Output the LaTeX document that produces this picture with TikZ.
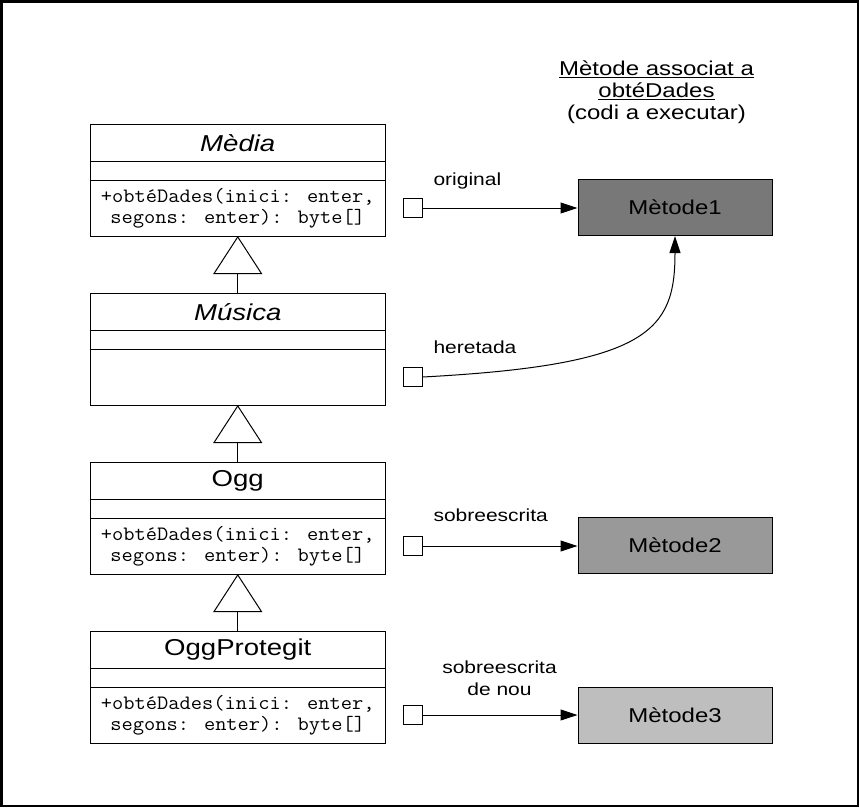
\documentclass[tikz,border=0pt]{standalone}
\usepackage{fontspec}
\setmainfont{Liberation Sans}[FakeStretch=1.2]
\newfontfamily\monof{Latin Modern Mono}[FakeStretch=1.07]
\usetikzlibrary{arrows.meta}
\definecolor{mone}{HTML}{787878}
\definecolor{mtwo}{HTML}{999999}
\definecolor{mthree}{HTML}{BEBEBE}
\tikzset{
  comp/.style={draw, rectangle, minimum width=294.5pt, inner sep=0pt, outer sep=0pt, anchor=north},
  cname/.style={font=\fontsize{23}{26}\selectfont},
  cmeth/.style={font=\monof\fontsize{20.4}{20.8}\selectfont, align=center},
  sqbox/.style={draw, rectangle, minimum size=19pt, inner sep=0pt, fill=white},
  mbox/.style={draw, rectangle, minimum width=194pt, minimum height=56pt, inner sep=0pt, font=\fontsize{20}{24}\selectfont},
  lbl/.style={inner sep=0pt, font=\fontsize{17.5}{22}\selectfont},
  arr/.style={-{Triangle[length=17pt,width=11pt]}},
  inh/.style={-{Triangle[open,length=38pt,width=49pt]}}
}
\newcommand\umlclass[4]{%
  \node[comp, cname, minimum height=37.5pt] (#1n) at (237.75,#2) {#3};
  \node[comp, minimum height=18.5pt] (#1a) at (#1n.south) {};
  \node[comp, cmeth, minimum height=56pt] (#1m) at (#1a.south) {#4};
}
\begin{document}
\begin{tikzpicture}[x=1pt,y=-1pt,line width=1pt]
\useasboundingbox (0,0) rectangle (859,807);
\draw[line width=2.5pt] (1.25,1.25) rectangle (857.75,805.75);

% title
\node[inner sep=0pt, anchor=north, align=center, font=\fontsize{20}{22}\selectfont] (title) at (656.5,60.4)
  {\underline{Mètode associat a}\\\underline{obtéDades}\\(codi a executar)};

% classes
\umlclass{media}{124}{\itshape Mèdia}{+obtéDades(inici: enter,\\ segons: enter): byte[]}
\umlclass{musica}{293}{\itshape Música}{}
\umlclass{ogg}{462}{Ogg}{+obtéDades(inici: enter,\\ segons: enter): byte[]}
\umlclass{oggp}{631}{OggProtegit}{+obtéDades(inici: enter,\\ segons: enter): byte[]}

\draw[inh] (musican.north) -- (mediam.south);
\draw[inh] (oggn.north) -- (musicam.south);
\draw[inh] (oggpn.north) -- (oggm.south);

% ports
\node[sqbox] (p1) at (412.5,208) {};
\node[sqbox] (p2) at (412.5,377) {};
\node[sqbox] (p3) at (412.5,546) {};
\node[sqbox] (p4) at (412.5,715) {};

% method boxes
\node[mbox, fill=mone] (m1) at (675,207.5) {Mètode1};
\node[mbox, fill=mtwo] (m2) at (675,545.5) {Mètode2};
\node[mbox, fill=mthree] (m3) at (675,715.5) {Mètode3};

% connectors
\draw[arr] (p1.east) -- (p1.east -| m1.west);
\draw[arr] (p2.east) .. controls (650,365) and (675,330) .. (m1.south);
\draw[arr] (p3.east) -- (p3.east -| m2.west);
\draw[arr] (p4.east) -- (p4.east -| m3.west);

% labels
\node[lbl, anchor=base west] (l1) at (433,185) {original};
\node[lbl, anchor=base west] (l2) at (433,353.3) {heretada};
\node[lbl, anchor=base west] (l3) at (433,521) {sobreescrita};
\node[lbl, anchor=north, align=center] (l4) at (499.5,659.9) {sobreescrita\\de nou};
\end{tikzpicture}
\end{document}
